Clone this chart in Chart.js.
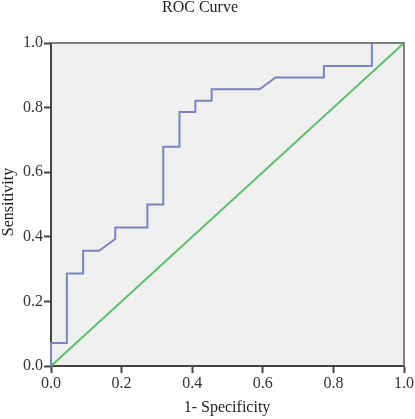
<!DOCTYPE html>
<html>
<head>
<meta charset="utf-8">
<script src="https://cdn.jsdelivr.net/npm/chart.js@4/dist/chart.umd.min.js"></script>
<style>
  html, body { margin: 0; padding: 0; background: #fff; }
  #wrap { width: 415px; height: 419px; }
</style>
</head>
<body>
<div id="wrap"><canvas id="rocChart"></canvas></div>
<script>
// ROC coordinates (1 - specificity, sensitivity)
const fpr = [0, 0, 0.045, 0.045, 0.091, 0.091, 0.136, 0.182, 0.182, 0.273, 0.273, 0.318, 0.318,
  0.364, 0.364, 0.409, 0.409, 0.455, 0.455, 0.591, 0.636, 0.773, 0.773, 0.909, 0.909, 1];
const tpr = [0, 0.071, 0.071, 0.286, 0.286, 0.357, 0.357, 0.393, 0.429, 0.429, 0.5, 0.5, 0.679,
  0.679, 0.786, 0.786, 0.821, 0.821, 0.857, 0.857, 0.893, 0.893, 0.929, 0.929, 1, 1];
const refX = [0, 1];
const refY = [0, 1];
const tickValues = [0, 0.2, 0.4, 0.6, 0.8, 1.0];

const font = "'Liberation Serif', 'Times New Roman', serif";

// background, frame and text labels
const decor = {
  id: "decor",
  beforeDraw(chart) {
    const { ctx, chartArea: a } = chart;
    ctx.save();
    ctx.fillStyle = "#f0f0f0";
    ctx.fillRect(a.left, a.top, a.right - a.left, a.bottom - a.top);
    ctx.restore();
  },
  afterDraw(chart) {
    const { ctx, chartArea: a } = chart;
    ctx.save();
    ctx.strokeStyle = "#808080";
    ctx.lineWidth = 2;
    ctx.beginPath();
    ctx.moveTo(a.left, a.top);
    ctx.lineTo(a.right, a.top);
    ctx.lineTo(a.right, a.bottom);
    ctx.stroke();

    ctx.fillStyle = "#222";
    ctx.textAlign = "center";
    ctx.textBaseline = "alphabetic";
    ctx.font = "16px " + font;
    ctx.fillText("ROC Curve", 200, 12);
    ctx.fillText("1- Specificity", 227, 412);

    ctx.translate(9, 202);
    ctx.rotate(-Math.PI / 2);
    ctx.textBaseline = "middle";
    ctx.fillText("Sensitivity", 0, 0);
    ctx.restore();
  }
};

const axisStyle = {
  type: "linear",
  min: 0,
  max: 1,
  border: { color: "#444", width: 2 },
  grid: { drawOnChartArea: false, drawTicks: true, tickLength: 7, tickColor: "#444", tickWidth: 2 },
  afterBuildTicks(scale) {
    scale.ticks = tickValues.map(v => ({ value: v }));
  },
};

new Chart(document.getElementById("rocChart"), {
  type: "scatter",
  data: {
    datasets: [
      {
        label: "ROC",
        data: fpr.map((x, i) => ({ x, y: tpr[i] })),
        showLine: true,
        borderColor: "#7b84c0",
        borderWidth: 2,
        pointRadius: 0,
        tension: 0,
        clip: false,
      },
      {
        label: "Reference",
        data: refX.map((x, i) => ({ x, y: refY[i] })),
        showLine: true,
        borderColor: "#5cc26a",
        borderWidth: 2,
        pointRadius: 0,
        clip: false,
      },
    ],
  },
  options: {
    responsive: true,
    maintainAspectRatio: false,
    animation: false,
    layout: { padding: { top: 43, right: 8, left: 0, bottom: 0 } },
    plugins: {
      legend: { display: false },
      title: { display: false },
      tooltip: { enabled: false },
    },
    scales: {
      x: {
        ...axisStyle,
        ticks: {
          color: "#333",
          font: { family: font, size: 16 },
          padding: 1,
          maxRotation: 0,
          callback: v => v.toFixed(1),
        },
        afterFit(scale) { scale.height = 53; },
      },
      y: {
        ...axisStyle,
        ticks: {
          color: "#333",
          font: { family: font, size: 16 },
          padding: 1,
          callback: v => v.toFixed(1),
        },
        afterFit(scale) { scale.width = 51; },
      },
    },
  },
  plugins: [decor],
});
</script>
</body>
</html>
